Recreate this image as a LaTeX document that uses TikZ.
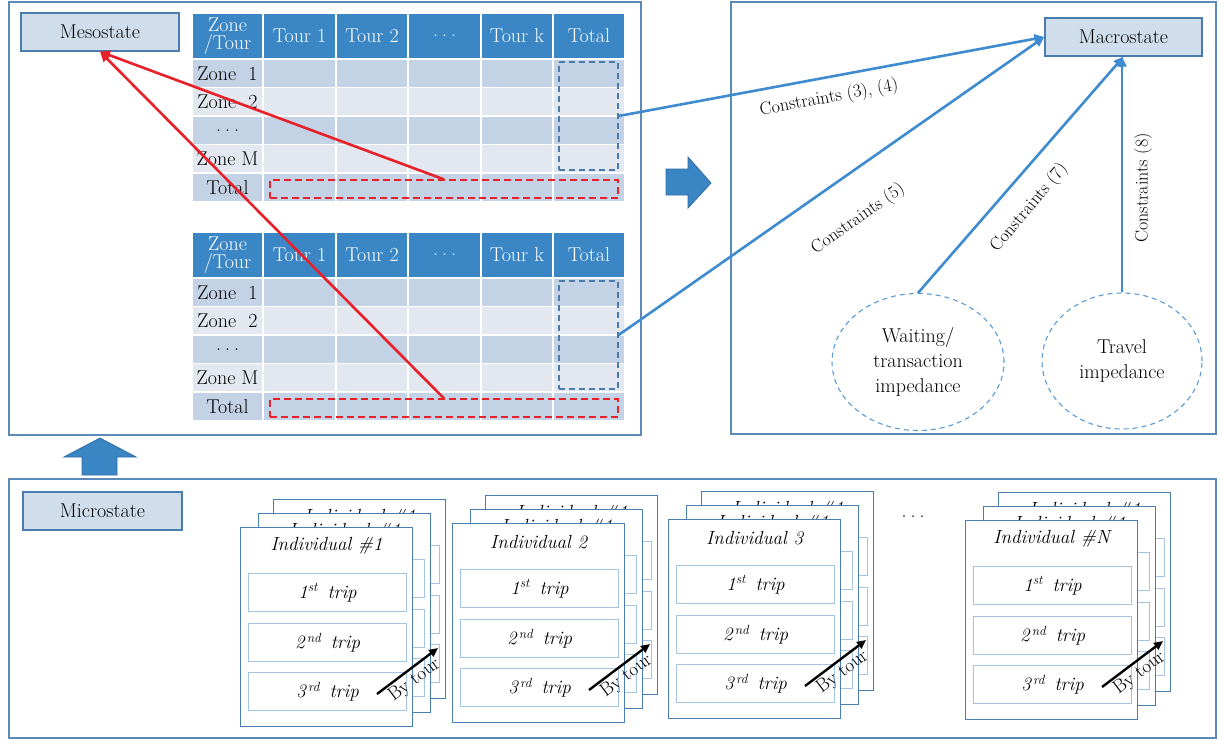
\documentclass[tikz,border=0pt]{standalone}
\usepackage{fontspec}
\usetikzlibrary{shapes.geometric,arrows.meta,calc}

\definecolor{panelline}{HTML}{5B8AB8}
\definecolor{boxfill}{HTML}{D0DDEB}
\definecolor{boxline}{HTML}{4A7CB0}
\definecolor{headfill}{HTML}{3B87C5}
\definecolor{rowdark}{HTML}{C4D2E5}
\definecolor{rowlight}{HTML}{E2E7F0}
\definecolor{flow}{HTML}{3E8BCF}
\definecolor{meso}{HTML}{E8202A}
\definecolor{tripline}{HTML}{A4C4E4}
\definecolor{cardline}{HTML}{4A7DB0}
\definecolor{blockfill}{HTML}{3A86C4}
\definecolor{blockline}{HTML}{2F6CA5}
\definecolor{dashblue}{HTML}{4A7BAA}
\definecolor{circline}{HTML}{5B9BD5}

% widely spaced ellipsis
\newcommand\wdots{.\hspace{4pt}.\hspace{4pt}.}

% Zone-by-tour table: #1 = top edge, #2 = name prefix
\newcommand\tourtable[2]{%
  \begin{scope}[shift={(0,#1)}]
    \foreach \xa/\xb/\lab in {192/263/{Zone\\/Tour},263/336/{Tour 1},336/408/{Tour 2},408/481/{\wdots},481/553/{Tour k},553/625/{Total}}{
      \filldraw[fill=headfill, draw=white, line width=1.4pt] (\xa,0) rectangle (\xb,46);
      \node[headtext] at ({(\xa+\xb)/2},23) {\lab};
    }
    \foreach \i/\lab/\col in {1/{Zone\ \ 1}/rowdark,2/{Zone\ \ 2}/rowlight,3/{\wdots}/rowdark,4/{Zone M}/rowlight,5/{Total}/rowdark}{
      \pgfmathsetmacro\ya{46+28.5*(\i-1)}
      \pgfmathsetmacro\yb{\ya+28.5}
      \foreach \xa/\xb in {192/263,263/336,336/408,408/481,481/553,553/625}{
        \filldraw[fill=\col, draw=white, line width=1.4pt] (\xa,\ya) rectangle (\xb,\yb);
      }
      \node[celltext] at (227.5,{(\ya+\yb)/2}) {\lab};
    }
    \node[totcol] (#2blue) at (588.5,103) {};
    \node[totrow] (#2red) at (444,176) {};
  \end{scope}%
}

% One individual's card: #1,#2 = top-left corner, #3 = title, #4 = name
\newcommand\tripcard[4]{%
  \node[card, anchor=north west] (#4) at (#1,#2) {};
  \node[cardtitle] (#4t) at ($(#4.north)+(0,19)$) {#3};
  \node[trip, anchor=north west] (#4a) at ($(#4.north west)+(8,46)$) {1\textsuperscript{st}\enspace trip};
  \node[trip, anchor=north west] (#4b) at ($(#4.north west)+(8,96)$) {2\textsuperscript{\,nd}\enspace trip};
  \node[trip, anchor=north west] (#4c) at ($(#4.north west)+(8,145)$) {3\textsuperscript{\,rd}\enspace trip};
}

% Stack of three cards with the tour arrow: #1,#2 = front card corner
\newcommand\tripstack[4]{%
  \tripcard{#1+33}{#2-28}{Individual \#1}{#4back}
  \tripcard{#1+18}{#2-14}{Individual \#1}{#4mid}
  \tripcard{#1}{#2}{#3}{#4}
  \coordinate (#4from) at ($(#4.north west)+(137,167)$);
  \coordinate (#4to) at ($(#4.north west)+(198,121)$);
  \draw[tourarrow] (#4from) -- node[sloped, below, pos=0.5, inner sep=2pt, font=\fontsize{19}{21}\selectfont] {By tour} (#4to);
}

\begin{document}
\begin{tikzpicture}[x=1pt, y=-1pt,
  every node/.style={font=\fontsize{20}{22}\selectfont},
  panel/.style={draw=panelline, line width=1.3pt},
  statebox/.style={draw=boxline, fill=boxfill, line width=1.3pt, minimum height=38pt, inner sep=0pt},
  headtext/.style={text=white, align=center, font=\fontsize{20}{18}\selectfont},
  celltext/.style={text=black},
  totcol/.style={draw=dashblue, dash pattern=on 6pt off 4pt, line width=1.2pt, minimum width=59pt, minimum height=108pt, inner sep=0pt},
  totrow/.style={draw=meso, dash pattern=on 7pt off 4pt, line width=1.2pt, minimum width=348pt, minimum height=18pt, inner sep=0pt},
  card/.style={draw=cardline, fill=white, line width=1.2pt, minimum width=172pt, minimum height=199pt, inner sep=0pt},
  cardtitle/.style={font=\fontsize{19}{21}\selectfont\itshape},
  trip/.style={draw=tripline, fill=white, line width=1.1pt, minimum width=158pt, minimum height=38pt, inner sep=0pt, font=\fontsize{19}{21}\selectfont\itshape},
  impedance/.style={ellipse, draw=circline, dash pattern=on 5pt off 4pt, line width=1.1pt, align=center, inner sep=0pt, font=\fontsize{20}{25}\selectfont},
  flowarrow/.style={draw=flow, line width=2.6pt, -{Triangle[length=10pt,width=9pt]}},
  mesoarrow/.style={draw=meso, line width=2.6pt, -{Triangle[length=10pt,width=9pt]}},
  tourarrow/.style={draw=black, line width=2.4pt, -{Triangle[length=9pt,width=8pt]}},
  constr/.style={font=\fontsize{18}{20}\selectfont}
]
\useasboundingbox (0,0) rectangle (1220,740);

% frames
\draw[panel] (9,2) rectangle (641,435);
\draw[panel] (731,2) rectangle (1216,434);
\draw[panel] (9,479) rectangle (1216,738);

% block arrows
\filldraw[fill=blockfill, draw=blockline, line width=0.8pt]
  (82,475) -- (82,457) -- (64,457) -- (100,438) -- (136,457) -- (117,457) -- (117,475) -- cycle;
\filldraw[fill=blockfill, draw=blockline, line width=0.8pt]
  (666,169) -- (688,169) -- (688,157) -- (711,183) -- (688,208) -- (688,195) -- (666,195) -- cycle;

% state boxes
\node[statebox, minimum width=158pt] (mesobox) at (100,32) {Mesostate};
\node[statebox, minimum width=157pt] (macro) at (1123.5,37) {Macrostate};
\node[statebox, minimum width=159pt] (micro) at (102.5,511) {Microstate};

% tables
\tourtable{13}{t1}
\tourtable{232}{t2}

% totals feeding the mesostate
\draw[mesoarrow] (t1red.north) -- (mesobox.south);
\draw[mesoarrow] (t2red.north) -- (mesobox.south);

% impedance sources
\node[impedance, minimum width=172pt, minimum height=137pt] (wait) at (918,362) {Waiting/\\transaction\\impedance};
\node[impedance, minimum width=160pt, minimum height=136pt] (travel) at (1122,361) {Travel\\impedance};

% constraints into the macrostate
\draw[flowarrow] (t1blue.east) -- (macro.west);
\draw[flowarrow] (t2blue.east) -- (macro.west);
\draw[flowarrow] (wait.north) -- (macro.south);
\draw[flowarrow] (travel.north) -- (travel.north |- macro.south);

\node[constr, rotate=10.5] (c34) at (829,98) {Constraints (3), (4)};
\node[constr, rotate=35] (c5) at (858,219) {Constraints (5)};
\node[constr, rotate=50] (c7) at (1029,208) {Constraints (7)};
\node[constr, rotate=90] (c8) at (1143,188) {Constraints (8)};

% individuals
\tripstack{240}{527}{Individual \#1}{sa}
\tripstack{452}{523}{Individual 2}{sb}
\tripstack{668}{519}{Individual 3}{sc}
\tripstack{965}{520}{Individual \#N}{sn}
\node (more) at (913,517) {\wdots};

\end{tikzpicture}
\end{document}
